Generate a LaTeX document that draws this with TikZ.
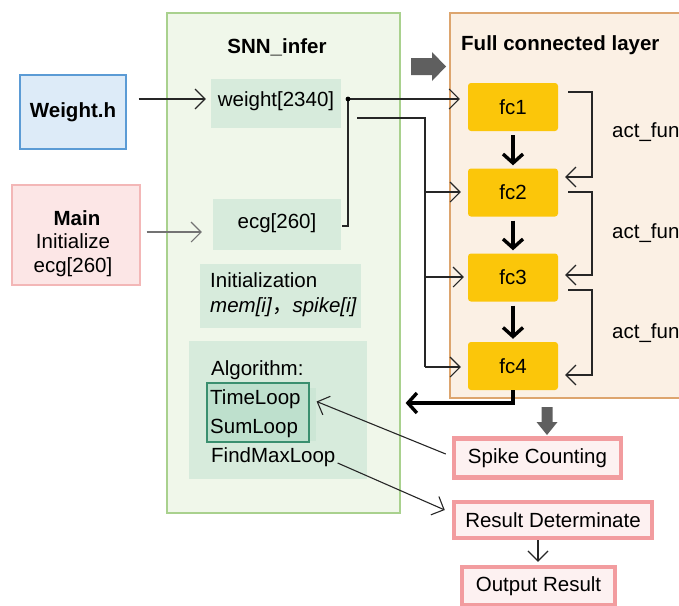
\documentclass[tikz,border=0pt]{standalone}
\usepackage{fontspec}
\setmainfont{Liberation Sans}
\newfontfamily\cjk{Noto Sans CJK SC}
\usetikzlibrary{arrows.meta,calc}
\definecolor{snnfill}{HTML}{F0F7EA}
\definecolor{snnedge}{HTML}{A9D18E}
\definecolor{fcfill}{HTML}{FBF0E4}
\definecolor{fcedge}{HTML}{DDA56E}
\definecolor{innerfill}{HTML}{D7EBDC}
\definecolor{tlfill}{HTML}{BEE0CD}
\definecolor{tledge}{HTML}{3A8F6F}
\definecolor{gold}{HTML}{FBC60A}
\definecolor{bluefill}{HTML}{DDEBF8}
\definecolor{blueedge}{HTML}{5B9BD5}
\definecolor{pinkfill}{HTML}{FCE6E6}
\definecolor{pinkedge}{HTML}{F3B7B7}
\definecolor{redfill}{HTML}{FDF1F1}
\definecolor{rededge}{HTML}{F29C9F}
\definecolor{blockgray}{HTML}{5F5F5F}
\begin{document}
\begin{tikzpicture}[x=1pt,y=-1pt,
  font=\fontsize{20.5}{24}\selectfont,
  container/.style={rectangle, inner sep=0pt, line width=1.2pt},
  innerbox/.style={rectangle, fill=innerfill, inner sep=0pt},
  fcbox/.style={rectangle, fill=gold, rounded corners=3pt, minimum width=90pt, minimum height=48pt, inner sep=0pt},
  resbox/.style={rectangle, draw=rededge, fill=redfill, line width=4.5pt, inner sep=0pt},
  lbl/.style={inner sep=0pt, anchor=west},
  arr/.style={draw=black!85, line width=1.1pt, -{Straight Barb[length=10pt,width=20pt,line width=1.1pt]}},
  thickarr/.style={draw=black, line width=3.4pt, -{Straight Barb[length=9pt,width=20pt,line width=3.4pt]}},
  plain/.style={draw=black!85, line width=1.1pt}
]
\useasboundingbox (0,0) rectangle (679,605);
\clip (0,0) rectangle (679,605);

% containers
\node[container, draw=snnedge, fill=snnfill, minimum width=233pt, minimum height=500pt] (snn) at (283.5,263) {};
\node[font=\fontsize{20.5}{24}\selectfont\bfseries] (snnt) at (277,47) {SNN\_infer};
\node[container, draw=fcedge, fill=fcfill, minimum width=260pt, minimum height=385pt] (fcl) at (580,205.5) {};
\node[font=\fontsize{20.5}{24}\selectfont\bfseries, anchor=west, inner sep=0pt] (fclt) at (461,45) {Full connected layer};

% gray block arrow
\fill[blockgray] (411,58) -- (432,58) -- (432,52) -- (446,66.5) -- (432,81) -- (432,75) -- (411,75) -- cycle;

% left boxes
\node[rectangle, draw=blueedge, fill=bluefill, line width=1.2pt, minimum width=106pt, minimum height=74pt, inner sep=0pt, font=\fontsize{20.5}{24}\selectfont\bfseries] (wh) at (73,112) {Weight.h};
\node[rectangle, draw=pinkedge, fill=pinkfill, line width=1.2pt, minimum width=128pt, minimum height=100pt, inner sep=0pt] (main) at (76,235) {};
\node[font=\fontsize{20.5}{24}\selectfont\bfseries, inner sep=0pt] (maint) at (77,218) {Main};
\node[inner sep=0pt] (maini) at (73,241) {Initialize};
\node[inner sep=0pt] (maine) at (73,267) {ecg[260]};

% inner boxes
\node[innerbox, minimum width=130pt, minimum height=49pt] (weight) at (276,103.5) {};
\node[inner sep=0pt] (weightt) at (276,101) {weight[2340]};
\node[innerbox, minimum width=128pt, minimum height=51pt] (ecg) at (277,224.5) {};
\node[inner sep=0pt] (ecgt) at (277,223) {ecg[260]};
\node[innerbox, minimum width=161pt, minimum height=64pt] (init) at (280.5,296) {};
\node[lbl] (initt) at (210,280) {Initialization};
\node[lbl] (initm) at (210,307) {\textit{mem[i]}{\cjk ，}\textit{spike[i]}};
\node[innerbox, minimum width=178pt, minimum height=138pt] (algo) at (278,410) {};
\node[lbl] (algot) at (211,370) {Algorithm:};
\fill[tlfill!45!innerfill] (213,388) rectangle (316,441);
\node[rectangle, draw=tledge, fill=tlfill, line width=1.2pt, minimum width=102pt, minimum height=59pt, inner sep=0pt] (tl) at (258,412.5) {};
\node[lbl] (tlt) at (210,399) {TimeLoop};
\node[lbl] (slt) at (210,428) {SumLoop};
\node[lbl] (fmt) at (211,457) {FindMaxLoop};

% fc nodes
\node[fcbox] (fc1) at (513,107) {fc1};
\node[fcbox] (fc2) at (513,192.5) {fc2};
\node[fcbox] (fc3) at (513,277.5) {fc3};
\node[fcbox] (fc4) at (513,366) {fc4};

% act_fun labels
\node[lbl] (af1) at (612,132) {act\_fun};
\node[lbl] (af2) at (612,233) {act\_fun};
\node[lbl] (af3) at (612,333) {act\_fun};

% result boxes
\node[resbox, minimum width=167pt, minimum height=39pt] (spike) at (537.5,458) {Spike Counting};
\node[resbox, minimum width=198pt, minimum height=36pt] (resd) at (553,520) {Result Determinate};
\node[resbox, minimum width=153pt, minimum height=38pt] (outr) at (538.5,586) {Output Result};

% coordinates
\coordinate (dot) at (348,99);
\coordinate (bus) at (425,118);
\coordinate (rx) at (538,0);

% connectors
\draw[arr] ([xshift=12pt]wh.east |- dot) -- ([xshift=-5pt]weight.west |- dot);
\draw[arr, draw=black!55] ([xshift=6pt]main.east |- 0,232) -- ([xshift=-11pt]ecg.west |- 0,232);
\draw[plain] ([xshift=1pt]ecg.east |- 0,226) -- (dot |- 0,226) -- (dot);
\draw[arr] (dot) -- ([xshift=-8pt]fc1.west |- dot);
\fill (dot) circle (2.4pt);
\draw[plain] ([xshift=16pt]weight.east |- bus) -- (bus) -- (bus |- 0,367);
\draw[arr] (bus |- 0,192) -- ([xshift=-7pt]fc2.west |- 0,192);
\draw[arr] (bus |- 0,277) -- ([xshift=-4pt]fc3.west |- 0,277);
\draw[arr] (bus |- 0,367) -- ([xshift=-7pt]fc4.west |- 0,367);

% fc chain
\draw[thickarr] ([yshift=-4pt]fc1.south) -- ([yshift=3pt]fc2.north);
\draw[thickarr] ([yshift=-4pt]fc2.south) -- ([yshift=3pt]fc3.north);
\draw[thickarr] ([yshift=-4pt]fc3.south) -- ([yshift=3pt]fc4.north);

% act_fun brackets
\draw[arr] ([xshift=10pt]fc1.east |- 0,92) -- (592,92) -- (592,177) -- ([xshift=7pt]fc2.east |- 0,177);
\draw[arr] ([xshift=10pt]fc2.east |- 0,192) -- (592,192) -- (592,275) -- ([xshift=7pt]fc3.east |- 0,275);
\draw[arr] ([xshift=10pt]fc3.east |- 0,290) -- (592,290) -- (592,375) -- ([xshift=7pt]fc4.east |- 0,375);

% fc4 back to SNN_infer
\draw[thickarr] (fc4.south) -- (fc4.south |- 0,403) -- ([xshift=5pt]snn.east |- 0,403);

% gray down arrow
\fill[blockgray] (541.5,407) -- (552.5,407) -- (552.5,422) -- (557.5,422) -- (547,435) -- (536.5,422) -- (541.5,422) -- cycle;

% spike -> TimeLoop, FindMaxLoop -> Result
\draw[arr] ([xshift=-6pt,yshift=4pt]spike.west) -- ([xshift=7pt,yshift=11pt]tl.east);
\draw[arr] ([xshift=2pt,yshift=-6pt]fmt.east) -- ([xshift=-7pt,yshift=10pt]resd.west);
\draw[arr] (resd.south -| rx) -- ([yshift=3pt]outr.north -| rx);
\end{tikzpicture}
\end{document}
